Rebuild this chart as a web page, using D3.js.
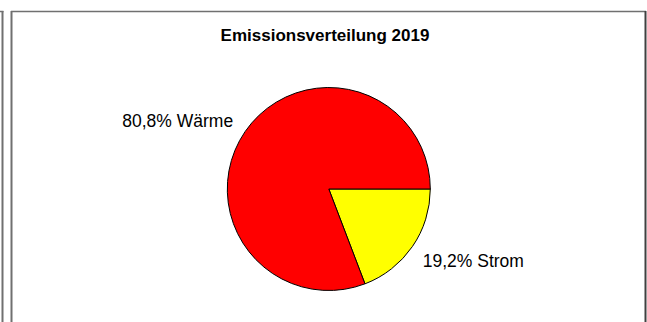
<!DOCTYPE html>
<html>
<head>
<meta charset="utf-8">
<script src="https://cdn.jsdelivr.net/npm/d3@7"></script>
<style>
  html, body { margin: 0; padding: 0; background: #fff; }
  svg { display: block; }
</style>
</head>
<body>
<svg id="chart" width="647" height="322"></svg>
<script>
// Emission shares by sector, 2019 (percent)
const categories = ["Strom", "Wärme"];
const shares = [19.2, 80.8];
const shareLabels = ["19,2%", "80,8%"];
const colors = ["#ffff00", "#ff0000"];
const title = "Emissionsverteilung 2019";

const svg = d3.select("#chart");
const W = 647, H = 322;

// frame lines of the chart area
const frame = svg.append("g").attr("fill", "none");
frame.append("line").attr("x1", 2.5).attr("x2", 2.5).attr("y1", 11).attr("y2", H)
  .attr("stroke", "#707070").attr("stroke-width", 2);
frame.append("line").attr("x1", 0).attr("x2", 3.5).attr("y1", 11.5).attr("y2", 11.5)
  .attr("stroke", "#707070").attr("stroke-width", 1.5);
frame.append("line").attr("x1", 11.5).attr("x2", 11.5).attr("y1", 11).attr("y2", H)
  .attr("stroke", "#707070").attr("stroke-width", 2);
frame.append("line").attr("x1", 11).attr("x2", 646).attr("y1", 11.5).attr("y2", 11.5)
  .attr("stroke", "#707070").attr("stroke-width", 1.5);
frame.append("line").attr("x1", 645.5).attr("x2", 645.5).attr("y1", 11).attr("y2", H)
  .attr("stroke", "#404040").attr("stroke-width", 2);

// title
svg.append("text")
  .attr("x", 325).attr("y", 40.5)
  .attr("text-anchor", "middle")
  .attr("font-family", "Liberation Sans, Arial, sans-serif")
  .attr("font-weight", "bold")
  .attr("font-size", 17)
  .attr("fill", "#000")
  .text(title);

// pie
const cx = 328.8, cy = 189, r = 101.5;
const startOffset = Math.PI / 2; // first slice begins at 3 o'clock
const pie = d3.pie().sort(null)
  .startAngle(startOffset).endAngle(startOffset + 2 * Math.PI)
  .value(d => d);
const arcs = pie(shares);
const arc = d3.arc().innerRadius(0).outerRadius(r);

const g = svg.append("g").attr("transform", `translate(${cx},${cy})`);
g.selectAll("path").data(arcs).join("path")
  .attr("d", arc)
  .attr("fill", (d, i) => colors[i])
  .attr("stroke", "#000")
  .attr("stroke-width", 1);

// slice labels, placed outside the pie near each slice's mid angle
const labelArc = d3.arc().innerRadius(r + 28).outerRadius(r + 28);
const labelFont = 17.5;
const isRight = d => ((d.startAngle + d.endAngle) / 2 % (2 * Math.PI)) < Math.PI;
g.selectAll("text.lbl").data(arcs).join("text")
  .attr("class", "lbl")
  .attr("font-family", "Liberation Sans, Arial, sans-serif")
  .attr("font-size", labelFont)
  .attr("fill", "#000")
  .attr("text-anchor", d => isRight(d) ? "start" : "end")
  .attr("x", d => labelArc.centroid(d)[0] + (isRight(d) ? -12.7 : 11))
  .attr("y", d => labelArc.centroid(d)[1] + (isRight(d) ? 4.2 : 11.5))
  .text((d, i) => `${shareLabels[i]} ${categories[i]}`);
</script>
</body>
</html>
